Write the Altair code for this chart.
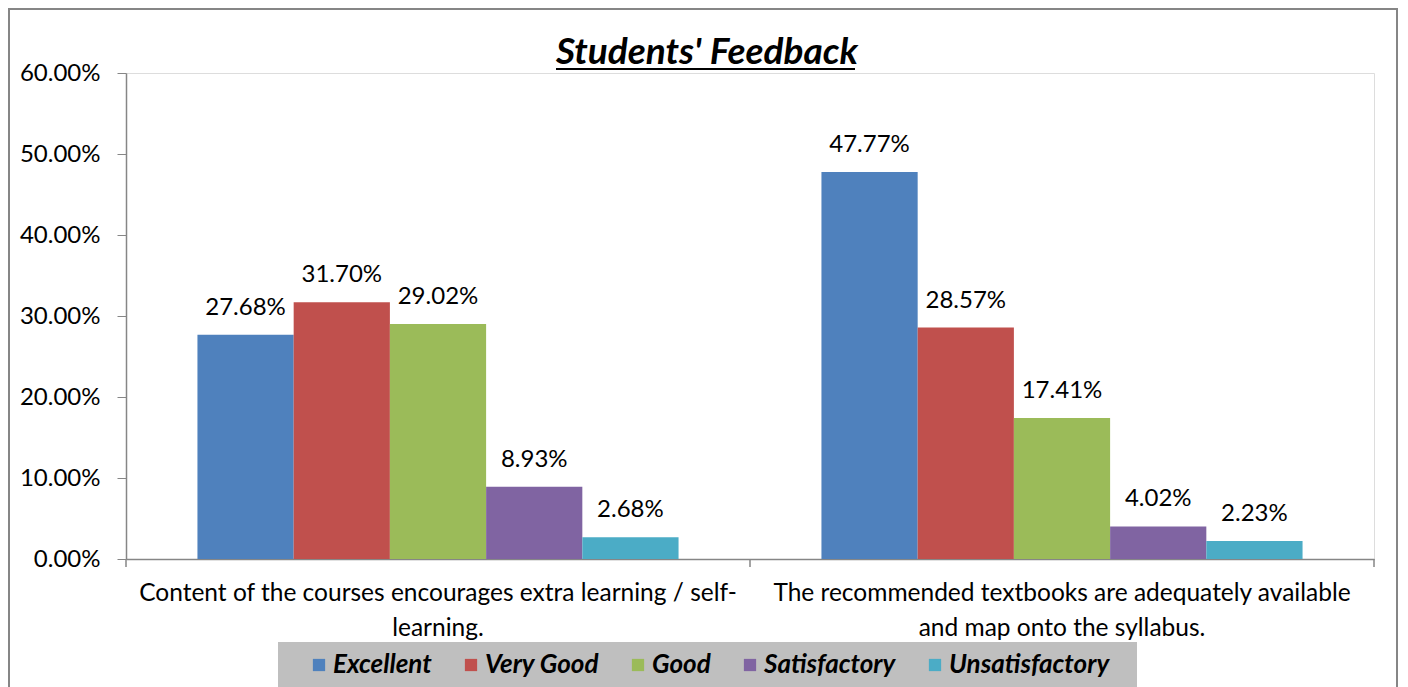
import altair as alt
import pandas as pd

# ---------------- data ----------------
categories = [
    "Content of the courses encourages extra learning / self-learning.",
    "The recommended textbooks are adequately available and map onto the syllabus.",
]
category_lines = [
    ["Content of the courses encourages extra learning / self-", "learning."],
    ["The recommended textbooks are adequately available", "and map onto the syllabus."],
]
ratings = ["Excellent", "Very Good", "Good", "Satisfactory", "Unsatisfactory"]
values_content = [0.2768, 0.3170, 0.2902, 0.0893, 0.0268]
values_textbooks = [0.4777, 0.2857, 0.1741, 0.0402, 0.0223]
colors = ["#4F81BD", "#C0504D", "#9BBB59", "#8064A2", "#4BACC6"]
y_ticks = [0.0, 0.1, 0.2, 0.3, 0.4, 0.5, 0.6]
title_text = "Students' Feedback"

rows = []
for cat, vals in zip(categories, [values_content, values_textbooks]):
    for r, v in zip(ratings, vals):
        rows.append({"category": cat, "rating": r, "value": v})
df = pd.DataFrame(rows)

FONT = "Lato"
W, H = 1248, 486
GRAY = "#868686"

# multi-line x labels
label_expr = ""
for cat, lines in zip(categories, category_lines):
    arr = "[" + ", ".join("'" + l + "'" for l in lines) + "]"
    label_expr += f"datum.value == '{cat}' ? {arr} : "
label_expr += "datum.label"

x_enc = alt.X(
    "category:N",
    sort=categories,
    scale=alt.Scale(paddingInner=0.229, paddingOuter=0.1145),
    axis=alt.Axis(
        title=None, labelAngle=0, ticks=False, labelExpr=label_expr,
        labelLimit=800, labelFontSize=24.5, labelFont=FONT, labelColor="black",
        labelPadding=22, labelLineHeight=35, domainColor=GRAY, domainWidth=1.5,
    ),
)
xoff = alt.XOffset("rating:N", sort=ratings, scale=alt.Scale(paddingInner=0, paddingOuter=0))
y_enc = alt.Y(
    "value:Q",
    scale=alt.Scale(domain=[0, 0.6], nice=False),
    axis=alt.Axis(
        title=None, values=y_ticks, format=".2%", grid=False,
        labelFontSize=24, labelFont=FONT, labelColor="black", labelPadding=17,
        tickSize=9, tickColor=GRAY, domainColor=GRAY, domainWidth=1.5,
    ),
)

base = alt.Chart(df)

# decorations: outer frame, legend background, title underline, category ticks
frame = alt.Chart(pd.DataFrame({"a": [0]})).mark_rect(
    fill=None, stroke=GRAY, strokeWidth=2
).encode(x=alt.value(-117), x2=alt.value(1271), y=alt.value(-64), y2=alt.value(700))

legend_bg = alt.Chart(pd.DataFrame({"a": [0]})).mark_rect(
    fill="#bfbfbf"
).encode(x=alt.value(152), x2=alt.value(1011), y=alt.value(569), y2=alt.value(640))

underline = alt.Chart(pd.DataFrame({"a": [0]})).mark_rule(
    color="black", strokeWidth=2
).encode(x=alt.value(430), x2=alt.value(729), y=alt.value(-4))

tick_layers = [
    alt.Chart(pd.DataFrame({"a": [0]})).mark_rule(color=GRAY, strokeWidth=1.5).encode(
        x=alt.value(xp), y=alt.value(H), y2=alt.value(H + 8)
    )
    for xp in [0, W / 2, W]
]

bars = base.mark_bar().encode(
    x=x_enc,
    xOffset=xoff,
    y=y_enc,
    color=alt.Color(
        "rating:N",
        sort=ratings,
        scale=alt.Scale(domain=ratings, range=colors),
        legend=alt.Legend(
            title=None, orient="none", direction="horizontal", columns=5,
            legendX=180, legendY=579, padding=0,
            symbolType="square", symbolSize=150, symbolStrokeWidth=0,
            labelFont=FONT, labelFontSize=26, labelFontStyle="italic",
            labelFontWeight="bold", labelColor="black", labelOffset=1,
            columnPadding=26, labelLimit=400,
        ),
    ),
)

labels = base.mark_text(
    baseline="middle", dy=-27, fontSize=24, font=FONT, color="black"
).encode(
    x=alt.X("category:N", sort=categories),
    xOffset=alt.XOffset("rating:N", sort=ratings),
    y=alt.Y("value:Q"),
    text=alt.Text("value:Q", format=".2%"),
)

chart = alt.layer(frame, legend_bg, bars, labels, underline, *tick_layers).properties(
    width=W,
    height=H,
    autosize=alt.AutoSizeParams(type="none"),
    padding={"left": 118, "top": 65, "right": 26, "bottom": 130},
    title=alt.TitleParams(
        text=title_text, font=FONT, fontSize=37, fontStyle="italic",
        fontWeight="bold", color="black", anchor="middle", dx=-43, dy=64, offset=0,
    ),
).configure_view(stroke=None).configure(background="white")

chart.save("out.html", embed_options={"renderer": "svg", "actions": False})
